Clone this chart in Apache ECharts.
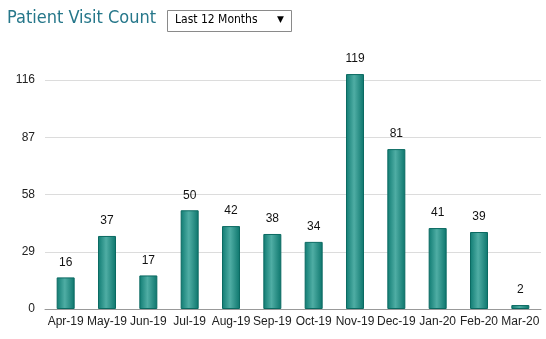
<!DOCTYPE html>
<html>
<head>
<meta charset="utf-8">
<script src="https://cdn.jsdelivr.net/npm/echarts@6/dist/echarts.min.js"></script>
<style>
  html, body { margin: 0; padding: 0; background: #fff; }
  #chart { width: 546px; height: 339px; }
</style>
</head>
<body>
<div id="chart"></div>
<script>
// Monthly patient visits
const months = ['Apr-19','May-19','Jun-19','Jul-19','Aug-19','Sep-19','Oct-19','Nov-19','Dec-19','Jan-20','Feb-20','Mar-20'];
const visits = [16, 37, 17, 50, 42, 38, 34, 119, 81, 41, 39, 2];
const yTicks = [0, 29, 58, 87, 116];

const chart = echarts.init(document.getElementById('chart'), null, { renderer: 'canvas' });

const barFill = new echarts.graphic.LinearGradient(0, 0, 1, 0, [
  { offset: 0, color: '#0f7b72' },
  { offset: 0.45, color: '#4fada4' },
  { offset: 1, color: '#0c756c' }
]);

chart.setOption({
  animation: false,
  grid: { left: 45, right: 5, top: 80, bottom: 30 },
  graphic: [
    {
      type: 'text', left: 7, top: 9,
      style: { text: 'Patient Visit Count', font: '18px "DejaVu Sans Condensed", Tahoma, sans-serif', fill: '#26778a' }
    },
    {
      type: 'rect', shape: { x: 167.5, y: 10.5, width: 124, height: 21 },
      style: { fill: '#fff', stroke: '#8a8a8a', lineWidth: 1 }
    },
    {
      type: 'text', left: 175, top: 14,
      style: { text: 'Last 12 Months', font: '12px "DejaVu Sans Condensed", Tahoma, sans-serif', fill: '#000' }
    },
    {
      type: 'text', left: 277, top: 15,
      style: { text: '▼', font: '9px "DejaVu Sans", sans-serif', fill: '#000' }
    }
  ],
  xAxis: {
    type: 'category',
    data: months,
    axisLine: { lineStyle: { color: '#999' } },
    axisTick: { length: 5, lineStyle: { color: '#999' } },
    axisLabel: { color: '#222', fontSize: 12, fontFamily: 'Arial, "Liberation Sans", sans-serif', margin: 7, interval: 0 }
  },
  yAxis: {
    type: 'value',
    min: yTicks[0],
    max: yTicks[yTicks.length - 1],
    interval: yTicks[1] - yTicks[0],
    axisLine: { show: false },
    axisTick: { show: false },
    axisLabel: { color: '#222', fontSize: 12, fontFamily: 'Arial, "Liberation Sans", sans-serif', margin: 10 },
    splitLine: { lineStyle: { color: '#dcdcdc' } }
  },
  series: [{
    type: 'bar',
    data: visits,
    barWidth: 18,
    clip: false,
    itemStyle: { color: barFill, borderColor: '#0b6a62', borderWidth: 1 },
    label: {
      show: true, position: 'top', distance: 9,
      color: '#111', fontSize: 12, fontFamily: 'Arial, "Liberation Sans", sans-serif'
    }
  }]
});
</script>
</body>
</html>
